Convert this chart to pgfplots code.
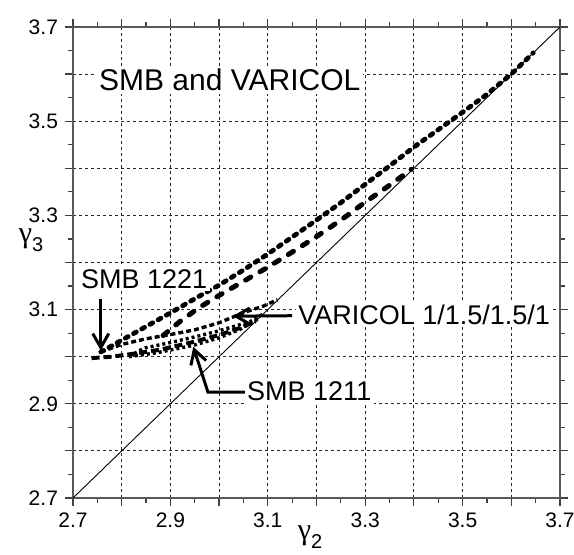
\documentclass[border=0pt]{standalone}
\usepackage{fontspec}
\setmainfont{Liberation Sans}
\newfontfamily\greekfont{Liberation Serif}
\usepackage{pgfplots}
\pgfplotsset{compat=1.18}
\usetikzlibrary{arrows.meta}
\begin{document}
\begin{tikzpicture}
\begin{axis}[
  scale only axis, width=243.5pt, height=235.5pt,
  xmin=2.7, xmax=3.7, ymin=2.7, ymax=3.7,
  xtick={2.7,2.8,2.9,3.0,3.1,3.2,3.3,3.4,3.5,3.6,3.7},
  ytick={2.7,2.8,2.9,3.0,3.1,3.2,3.3,3.4,3.5,3.6,3.7},
  xticklabels={2.7,,2.9,,3.1,,3.3,,3.5,,3.7},
  yticklabels={2.7,,2.9,,3.1,,3.3,,3.5,,3.7},
  minor x tick num=1, minor y tick num=1,
  tick align=outside,
  major tick length=4pt, minor tick length=2.5pt,
  grid=major,
  major grid style={black!85, line width=0.4pt, dash pattern=on 1.5pt off 1.5pt},
  axis line style={black!65, line width=0.7pt},
  tick style={black!75, line width=0.6pt},
  ticklabel style={font=\fontsize{10.5}{12}\selectfont},
  /pgf/number format/assume math mode=true,
  clip=false,
]
% diagonal
\addplot[black, line width=0.45pt] coordinates {(2.7,2.7) (3.7,3.7)};
% C1 upper heavy dotted
\addplot[black, line width=2.4pt, line cap=round, dash pattern=on 1.6pt off 3.1pt] coordinates {
(2.757,3.010) (2.80,3.035) (2.85,3.064) (2.90,3.093) (2.95,3.123) (3.00,3.152)
(3.05,3.184) (3.10,3.218) (3.15,3.254) (3.20,3.290) (3.25,3.327) (3.30,3.366)
(3.35,3.405) (3.40,3.445) (3.45,3.482) (3.50,3.519) (3.55,3.557) (3.60,3.600) (3.645,3.645)};
% C2 upper dashed
\addplot[black, line width=2.5pt, line cap=round, dash pattern=on 3pt off 5.3pt] coordinates {
(2.885,3.045) (2.92,3.075) (2.96,3.105) (3.00,3.130) (3.05,3.160) (3.10,3.190)
(3.15,3.222) (3.20,3.255) (3.25,3.290) (3.30,3.328) (3.35,3.364) (3.395,3.398)};
% L1 lower dotted (SMB 1221)
\addplot[black, line width=1.7pt, dash pattern=on 2.5pt off 1.5pt] coordinates {
(2.757,3.010) (2.80,3.026) (2.85,3.038) (2.90,3.047) (2.95,3.057) (3.00,3.072)
(3.035,3.087) (3.06,3.097) (3.09,3.107) (3.12,3.121)};
% SMB 1211 upper dotted
\addplot[black, line width=1.7pt, dash pattern=on 1.5pt off 1.5pt] coordinates {
(2.815,3.000) (2.845,3.018) (2.90,3.030) (2.95,3.042) (3.00,3.055) (3.063,3.074) (3.09,3.09)};
% SMB 1211 lower dotted
\addplot[black, line width=1.7pt, dash pattern=on 1.5pt off 1.5pt] coordinates {
(2.815,3.000) (2.87,3.008) (2.947,3.024) (3.00,3.040) (3.043,3.058) (3.08,3.08)};
% VARICOL lower dashed
\addplot[black, line width=2pt, dash pattern=on 4pt off 2pt] coordinates {
(2.738,2.997) (2.78,3.000) (2.83,3.007) (2.88,3.015) (2.95,3.032) (3.00,3.046) (3.04,3.060) (3.075,3.075)};
% annotations
\node[anchor=west, fill=white, inner sep=1.2pt, font=\fontsize{15}{18}\selectfont] at (axis cs:2.748,3.587) {SMB and VARICOL};
\node[anchor=west, fill=white, inner sep=1.2pt, font=\fontsize{13.5}{16}\selectfont] at (axis cs:2.711,3.165) {SMB 1221};
\draw[line width=1.5pt, -{Straight Barb[length=7pt,width=8pt]}] (axis cs:2.757,3.122) -- (axis cs:2.757,3.013);
\node[anchor=west, fill=white, inner sep=1.2pt, font=\fontsize{13.5}{16}\selectfont] at (axis cs:3.157,3.0885) {VARICOL 1/1.5/1.5/1};
\draw[line width=1.5pt, -{Straight Barb[length=7pt,width=8pt]}] (axis cs:3.150,3.087) -- (axis cs:3.028,3.086);
\node[anchor=west, fill=white, inner sep=1.2pt, font=\fontsize{13.5}{16}\selectfont] at (axis cs:3.052,2.926) {SMB 1211};
\draw[line width=1.5pt, -{Straight Barb[length=7pt,width=8pt]}] (axis cs:3.053,2.925) -- (axis cs:2.977,2.925) -- (axis cs:2.947,3.021);
% axis labels
\node[yshift=-19.5pt] at (rel axis cs:0.487,0) {{\greekfont\fontsize{15}{15}\selectfont γ}\raisebox{-4.5pt}{\fontsize{10}{10}\selectfont 2}};
\node[xshift=-21pt] at (rel axis cs:0,0.548) {{\greekfont\fontsize{15}{15}\selectfont γ}\raisebox{-4.5pt}{\fontsize{10}{10}\selectfont 3}};
\end{axis}
\pgfresetboundingbox
\path ([shift={(-36.5pt,-28.5pt)}]current axis.south west) rectangle ([shift={(7pt,13.5pt)}]current axis.north east);
\end{tikzpicture}
\end{document}
